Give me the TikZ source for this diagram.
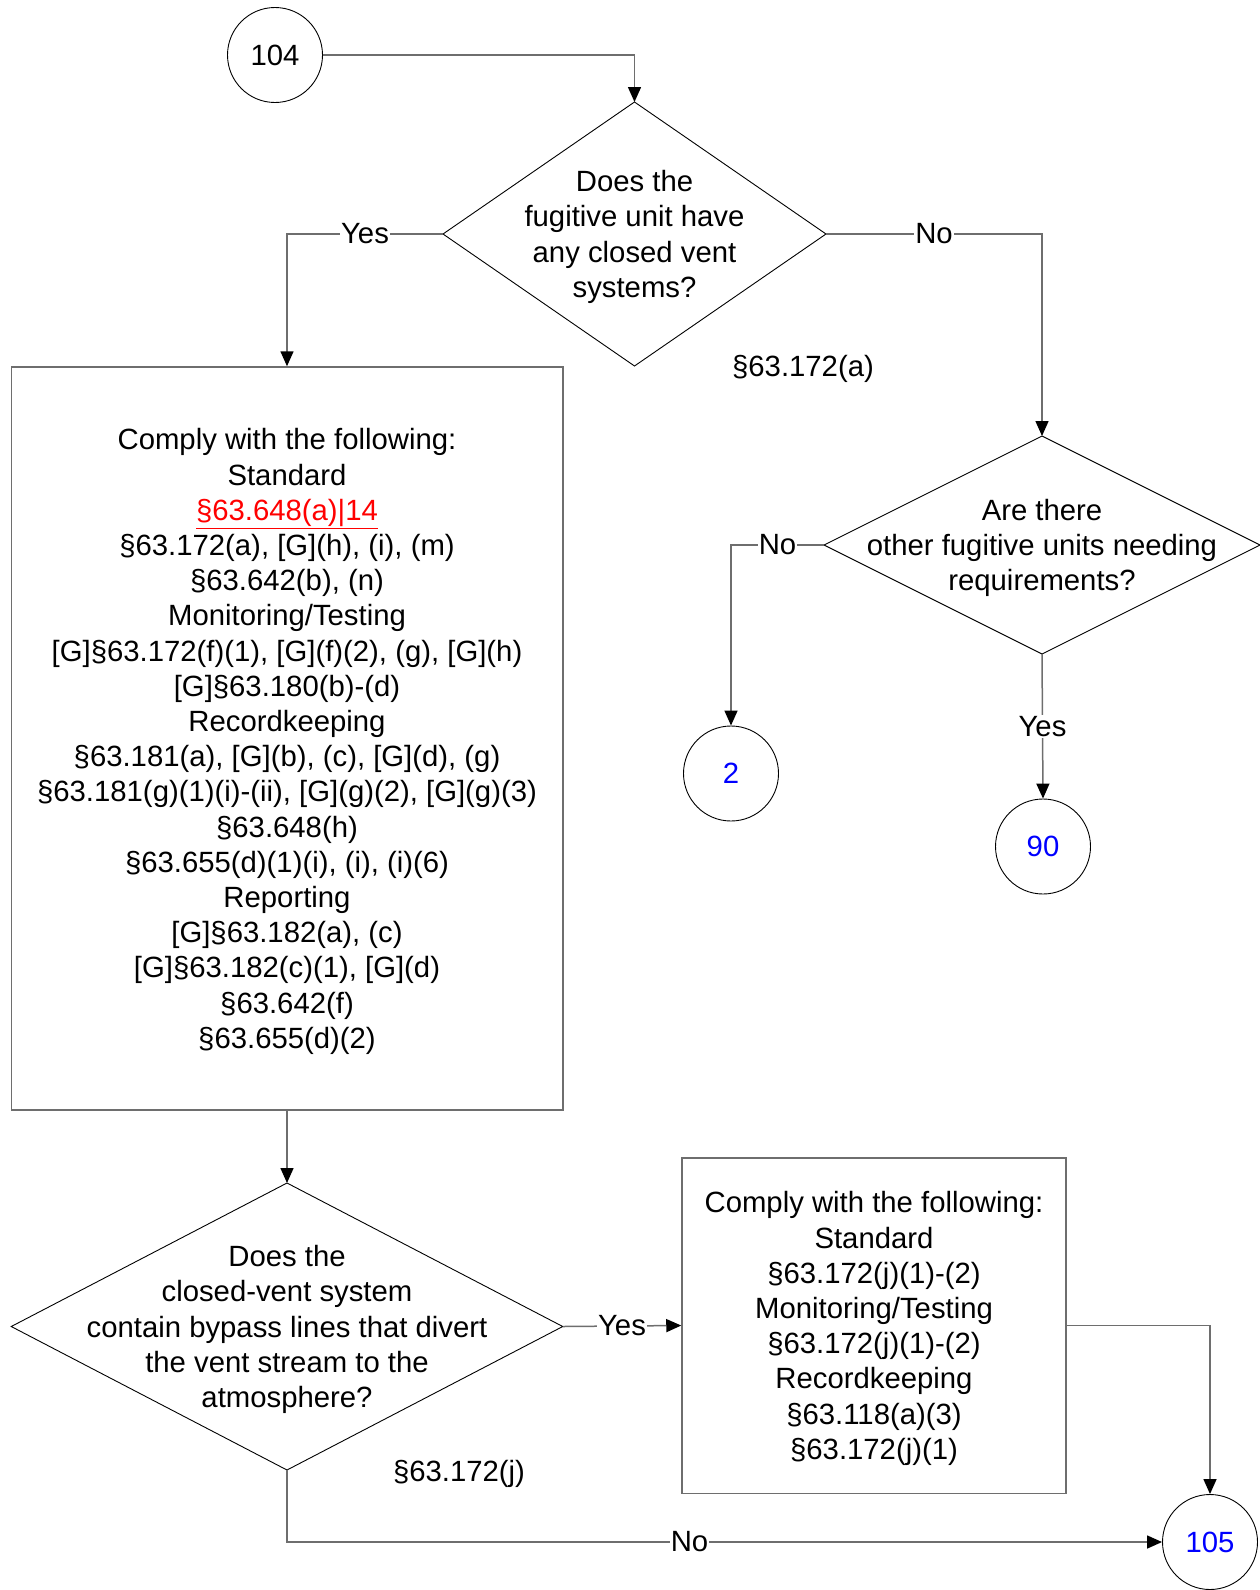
\documentclass[tikz,border=0pt]{standalone}
\usepackage{fontspec}
\setmainfont{Liberation Sans}
\usetikzlibrary{shapes.geometric,arrows.meta}
\definecolor{linegray}{RGB}{110,110,110}
\definecolor{numblue}{RGB}{0,0,255}
\definecolor{refred}{RGB}{255,0,0}
\begin{document}
\begin{tikzpicture}[x=1pt,y=-1pt,
  every node/.style={font=\fontsize{29.3}{35.2}\selectfont},
  conn/.style={draw=linegray,line width=1.5pt},
  arr/.style={conn,-{Triangle[length=15pt,width=13pt,color=black]}},
  dia/.style={draw=black,line width=0.9pt,shape=diamond,inner sep=0pt,outer sep=0pt},
  circ/.style={draw=black,line width=0.9pt,circle,minimum size=95pt,inner sep=0pt},
  rbox/.style={draw=linegray,line width=1.5pt,rectangle,inner sep=0pt},
  lbl/.style={fill=white,inner sep=1pt},
  txt/.style={align=center,inner sep=0pt,yshift=-3pt}
]
\useasboundingbox (0,0) rectangle (1259,1590);

% nodes
\node[circ] (c104) at (275,55) {104};
\node[dia,minimum width=383pt,minimum height=264pt] (d1) at (634.5,234) {};
\node[txt] (d1t) at (d1.center) {Does the\\fugitive unit have\\any closed vent\\systems?};

\node[rbox,minimum width=551.5pt,minimum height=743pt] (b1) at (287,738.5) {};
\node[txt] (b1t) at (b1.center)
 {Comply with the following:\\Standard\\
  {\color{refred}\underline{§63.648(a)|14}}\\
  §63.172(a), {[G]}(h), (i), (m)\\
  §63.642(b), (n)\\
  Monitoring/Testing\\
  {[G]}§63.172(f)(1), {[G]}(f)(2), (g), {[G]}(h)\\
  {[G]}§63.180(b)-(d)\\
  Recordkeeping\\
  §63.181(a), {[G]}(b), (c), {[G]}(d), (g)\\
  §63.181(g)(1)(i)-(ii), {[G]}(g)(2), {[G]}(g)(3)\\
  §63.648(h)\\
  §63.655(d)(1)(i), (i), (i)(6)\\
  Reporting\\
  {[G]}§63.182(a), (c)\\
  {[G]}§63.182(c)(1), {[G]}(d)\\
  §63.642(f)\\
  §63.655(d)(2)};

\node[dia,minimum width=436pt,minimum height=218pt] (d2) at (1042,545) {};
\node[txt] (d2t) at (d2.center) {Are there\\other fugitive units needing\\requirements?};

\node[circ,text=numblue] (c2) at (731,773.5) {2};
\node[circ,text=numblue] (c90) at (1043,846.5) {90};

\node[dia,minimum width=551.5pt,minimum height=287pt] (d3) at (287,1326.5) {};
\node[txt] (d3t) at (d3.center) {Does the\\closed-vent system\\contain bypass lines that divert\\the vent stream to the\\atmosphere?};

\node[rbox,minimum width=384pt,minimum height=335.5pt] (b2) at (874,1325.5) {};
\node[txt] (b2t) at (b2.center)
 {Comply with the following:\\Standard\\§63.172(j)(1)-(2)\\Monitoring/Testing\\§63.172(j)(1)-(2)\\Recordkeeping\\§63.118(a)(3)\\§63.172(j)(1)};

\node[circ,text=numblue] (c105) at (1210,1542) {105};

\node[txt] (ref1) at (803,366) {§63.172(a)};
\node[txt] (ref2) at (459,1471) {§63.172(j)};

% connectors
\draw[arr] (c104.east) -| (d1.north);
\draw[arr] (d1.west) -| node[lbl,pos=0.25] (yes1) {Yes} (b1.north);
\draw[arr] (d1.east) -| node[lbl,pos=0.25] (no1) {No} (d2.north);
\draw[arr] (d2.west) -| node[lbl,pos=0.25] (no2) {No} (c2.north);
\draw[arr] (d2.south) -- node[lbl,pos=0.5] (yes2) {Yes} (c90.north);
\draw[arr] (b1.south) -- (d3.north);
\draw[arr] (d3.east) -- node[lbl] (yes3) {Yes} (b2.west);
\draw[arr] (b2.east) -| (c105.north);
\draw[arr] (d3.south) |- node[lbl,pos=0.73] (no3) {No} (c105.west);
\end{tikzpicture}
\end{document}
